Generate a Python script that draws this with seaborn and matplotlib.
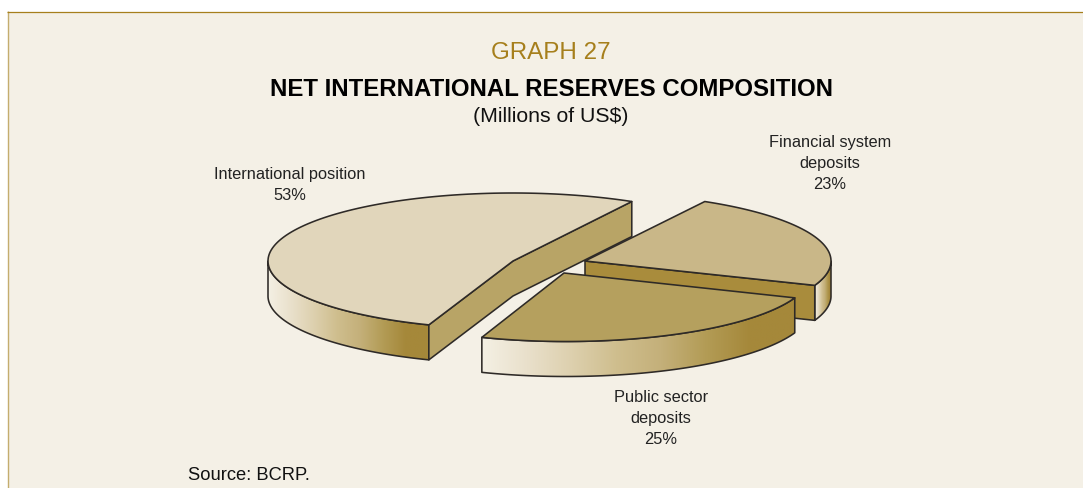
import numpy as np
import matplotlib
matplotlib.use("Agg")
import matplotlib.pyplot as plt
from matplotlib.patches import Polygon, Rectangle
import seaborn as sns

# Reserve components, in drawing order (back to front)
categories = ["International position", "Financial system\ndeposits", "Public sector\ndeposits"]
shares = [53, 23, 25]

# Layout of the exploded disc, in figure pixels
apexes = [(513, 262), (585, 262), (564, 274)]
rim_centers = [(513, 262), (586, 262), (566, 274.5)]
label_pos = [(290, 184.5), (830, 163.5), (661, 419)]
RADIUS_X, RADIUS_Y, DEPTH = 245, 68, 35
FIRST_ANGLE = 61

top_colors = ["#E1D6BB", "#C9B788", "#B5A05E"]
face_colors = ["#B8A466", "#A98C3C", "#B5A05E"]
wall_ramp = ["#F4F0E4", "#E9E0CB", "#DDD0AE", "#CFBE8E", "#C4B07A", "#B39C56", "#A5883A", "#A5883A"]
EDGE = "#2E2A27"
INK = "#222222"
BACKGROUND = "#F4F0E6"
GOLD = "#A67F1C"

sns.set_theme(style="white")
plt.rcParams["font.family"] = ["Liberation Sans", "DejaVu Sans"]

fig = plt.figure(figsize=(10.83, 4.89), dpi=100, facecolor="white")
ax = fig.add_axes([0, 0, 1, 1])
ax.set_xlim(0, 1083)
ax.set_ylim(489, 0)
ax.axis("off")

# Panel with its gold rules
ax.add_patch(Rectangle((8, 13), 1075, 476, fc=BACKGROUND, ec="none", zorder=0))
ax.plot([8, 8], [12, 489], color="#C4AD6E", lw=1.0, zorder=1, solid_capstyle="butt")
ax.plot([7.3, 1083], [12.5, 12.5], color=GOLD, lw=0.9, zorder=1, solid_capstyle="butt")


def rim(center, start, stop, drop=0.0, n=120):
    """Points along the elliptical rim between two angles, in degrees."""
    t = np.radians(np.linspace(start, stop, n))
    return np.column_stack([center[0] + RADIUS_X * np.cos(t),
                            center[1] - RADIUS_Y * np.sin(t) + drop])


def draw_slice(apex, center, start, stop, top, face, z):
    # Curved outer wall: only the part on the near half of the disc shows
    low, high = max(start, 180), min(stop, 360)
    if high > low:
        arc = rim(center, low, high)
        wall = np.vstack([arc, rim(center, high, low, DEPTH)])
        x0, x1 = arc[:, 0].min(), arc[:, 0].max()
        ramp = sns.blend_palette(wall_ramp, 256)
        strip = np.array(ramp)[None, :, :]
        img = ax.imshow(strip, extent=(x0, x1, wall[:, 1].max(), wall[:, 1].min()),
                        aspect="auto", interpolation="bilinear", zorder=z)
        outline = Polygon(wall, closed=True, fc="none", ec=EDGE, lw=1.15,
                          joinstyle="round", zorder=z + 0.2)
        ax.add_patch(outline)
        img.set_clip_path(outline)

    # Flat cut faces that look towards the viewer
    start_shows = np.sin(np.radians(start - 90)) < 0
    stop_shows = np.sin(np.radians(stop + 90)) < 0
    path = []
    if stop_shows:
        path.append(rim(center, stop, stop, n=1)[0])
    path.append(apex)
    if start_shows:
        path.append(rim(center, start, start, n=1)[0])
    path = np.array(path, dtype=float)
    if len(path) > 1:
        lowered = path[::-1] + [0, DEPTH]
        ax.add_patch(Polygon(np.vstack([path, lowered]), closed=True, fc=face, ec=EDGE,
                             lw=1.15, joinstyle="round", zorder=z + 0.3))

    # Top surface
    surface = np.vstack([[apex], rim(center, start, stop)])
    ax.add_patch(Polygon(surface, closed=True, fc=top, ec=EDGE, lw=1.15,
                         joinstyle="round", zorder=z + 0.4))


# Angles run counter-clockwise from the first slice around the whole disc
total = sum(shares)
order = [0, 2, 1]
edges = {}
angle = FIRST_ANGLE
for i in order:
    sweep = shares[i] / total * 360
    edges[i] = (angle, angle + sweep)
    angle += sweep

for i in range(len(shares)):
    draw_slice(apexes[i], rim_centers[i], *edges[i], top_colors[i], face_colors[i], 2 + i)

for name, share, (x, y) in zip(categories, shares, label_pos):
    ax.text(x, y, f"{name}\n{share}%", ha="center", va="center", fontsize=11.8,
            color=INK, linespacing=1.5, zorder=10)

ax.text(551, 53, "GRAPH 27", ha="center", va="center", fontsize=17.4, color=GOLD)
ax.text(551, 89, "NET INTERNATIONAL RESERVES COMPOSITION", ha="center", va="center",
        fontsize=17.27, fontweight="bold", color="black")
ax.text(551, 116.5, "(Millions of US$)", ha="center", va="center", fontsize=15.3, color="#111111")
ax.text(188, 475, "Source: BCRP.", ha="left", va="center", fontsize=13.2, color="#111111")

fig.savefig("out.png", dpi=100, facecolor="white")
